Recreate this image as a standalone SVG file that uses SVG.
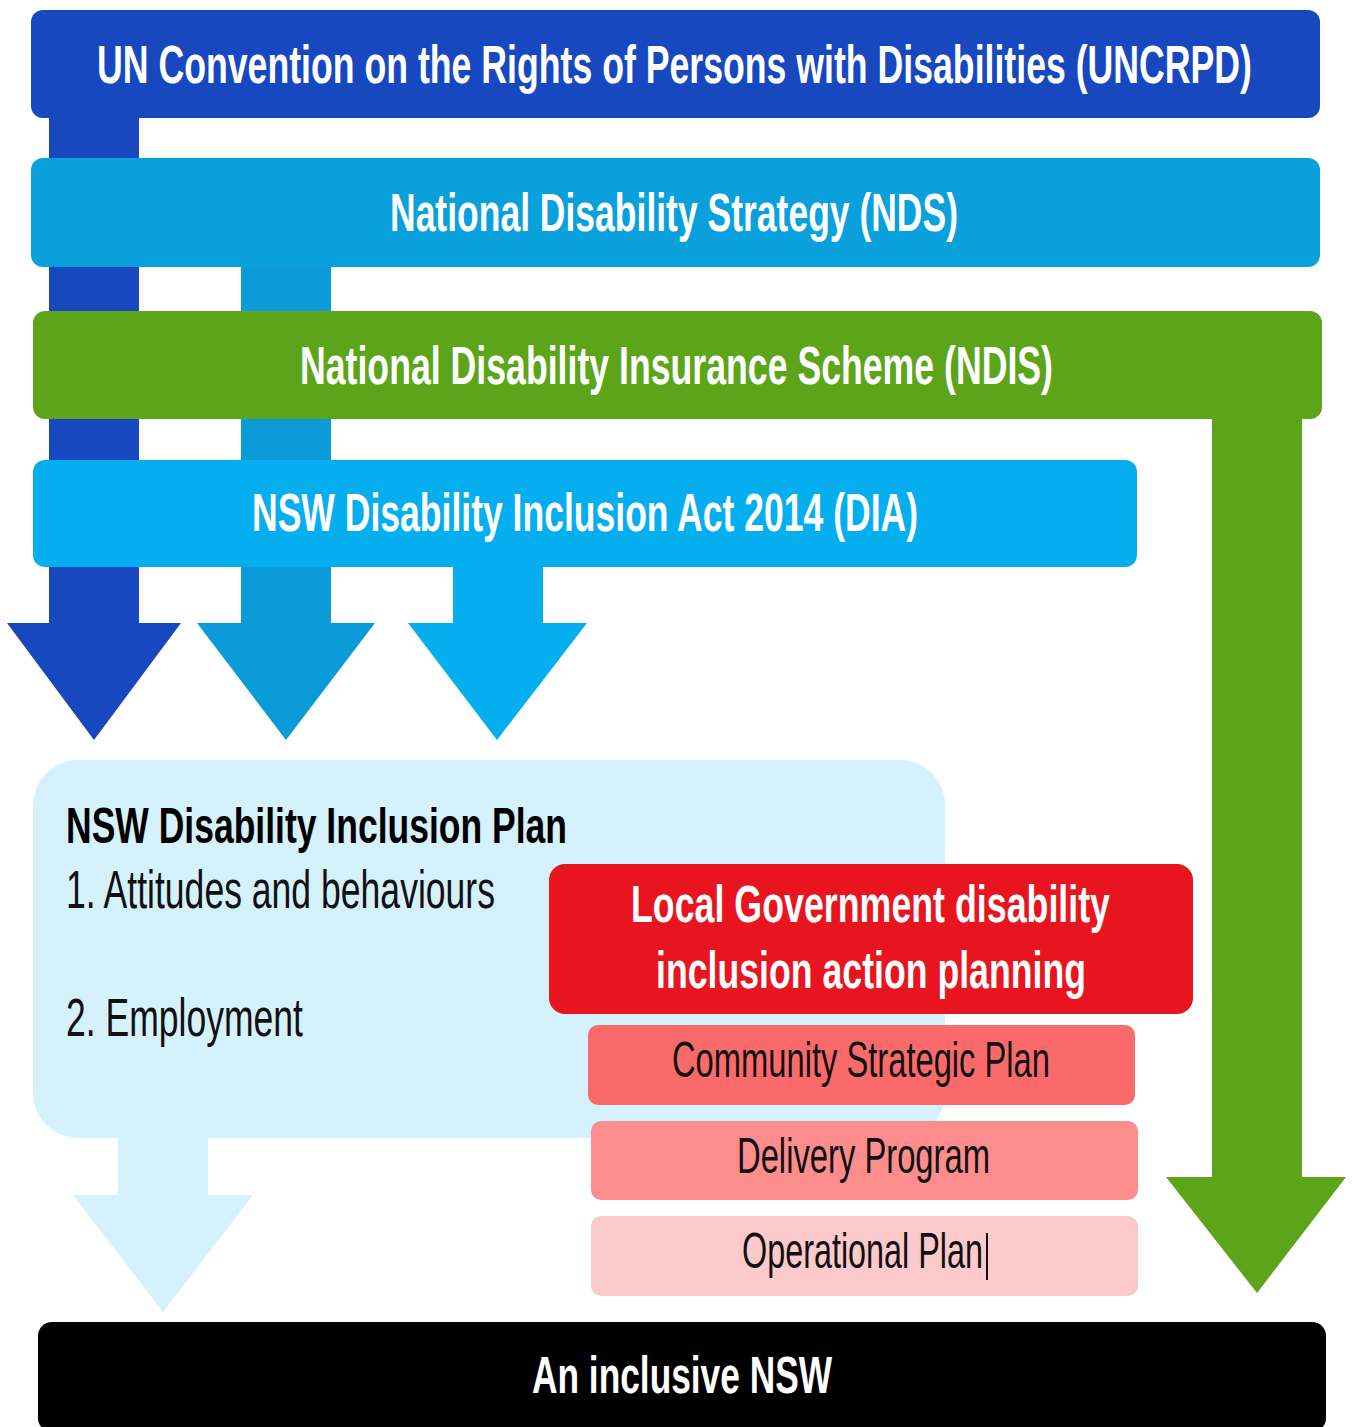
<svg xmlns="http://www.w3.org/2000/svg" width="1355" height="1427" viewBox="0 0 1355 1427">
<style>
text{font-family:"Liberation Sans",Arial,sans-serif}
.tb{font-weight:bold;fill:#fff;font-size:54px}
.tk{font-weight:bold;fill:#000;font-size:50px}
.tr{fill:#111;font-size:54px}
.ts{fill:#111;font-size:50px}
.tw{font-weight:bold;fill:#fff;font-size:52px}
</style>
<rect width="1355" height="1427" fill="#fff"/>
<g id="connectors">
  <path id="arrow-uncrpd" d="M49 110 H139 V623 H181 L94 740 L7 623 H49 Z" fill="#1748BF"/>
  <path id="arrow-nds" d="M241 260 H331 V623 H375 L286 740 L197 623 H241 Z" fill="#0A9BD8"/>
  <path id="arrow-dia" d="M453 560 H543 V623 H587 L497 740 L408 623 H453 Z" fill="#05AEEE"/>
  <path id="arrow-ndis" d="M1212 405 H1302 V1177 H1346 L1257 1293 L1166 1177 H1212 Z" fill="#5CA51B"/>
  <path id="arrow-plan" d="M118 1130 H208 V1195 H253 L163 1312 L73 1195 H118 Z" fill="#D5F1FC"/>
</g>
<g id="uncrpd">
  <rect x="31" y="10" width="1289" height="108" rx="12" fill="#1748BF"/>
  <text class="tb" x="97" y="83" textLength="1155" lengthAdjust="spacingAndGlyphs">UN Convention on the Rights of Persons with Disabilities (UNCRPD)</text>
</g>
<g id="nds">
  <rect x="31" y="158" width="1289" height="109" rx="12" fill="#0AA0DC"/>
  <text class="tb" x="390" y="231" textLength="568" lengthAdjust="spacingAndGlyphs">National Disability Strategy (NDS)</text>
</g>
<g id="ndis">
  <rect x="33" y="311" width="1289" height="108" rx="12" fill="#5CA51B"/>
  <text class="tb" x="300" y="384" textLength="753" lengthAdjust="spacingAndGlyphs">National Disability Insurance Scheme (NDIS)</text>
</g>
<g id="dia">
  <rect x="33" y="460" width="1104" height="107" rx="12" fill="#05AEEE"/>
  <text class="tb" x="252" y="531" textLength="666" lengthAdjust="spacingAndGlyphs">NSW Disability Inclusion Act 2014 (DIA)</text>
</g>
<g id="nsw-plan">
  <rect x="33" y="760" width="912" height="378" rx="45" fill="#D5F1FC"/>
  <text class="tk" x="66" y="843" textLength="501" lengthAdjust="spacingAndGlyphs">NSW Disability Inclusion Plan</text>
  <text class="tr" x="66" y="908" textLength="429" lengthAdjust="spacingAndGlyphs">1. Attitudes and behaviours</text>
  <text class="tr" x="66" y="1036" textLength="237" lengthAdjust="spacingAndGlyphs">2. Employment</text>
</g>
<g id="local-gov">
  <rect x="549" y="864" width="644" height="150" rx="16" fill="#E8141F"/>
  <text class="tw" x="631" y="922" textLength="479" lengthAdjust="spacingAndGlyphs">Local Government disability</text>
  <text class="tw" x="656" y="988" textLength="430" lengthAdjust="spacingAndGlyphs">inclusion action planning</text>
</g>
<g id="community-strategic-plan">
  <rect x="588" y="1025" width="547" height="80" rx="10" fill="#FA6A6A"/>
  <text class="ts" x="672" y="1077" textLength="378" lengthAdjust="spacingAndGlyphs">Community Strategic Plan</text>
</g>
<g id="delivery-program">
  <rect x="591" y="1121" width="547" height="79" rx="10" fill="#FD8C8C"/>
  <text class="ts" x="737" y="1173" textLength="253" lengthAdjust="spacingAndGlyphs">Delivery Program</text>
</g>
<g id="operational-plan">
  <rect x="591" y="1216" width="547" height="80" rx="10" fill="#FCCACB"/>
  <text class="ts" x="742" y="1268" textLength="241" lengthAdjust="spacingAndGlyphs">Operational Plan</text>
  <rect x="986" y="1233" width="2" height="47" fill="#111"/>
</g>
<g id="inclusive-nsw">
  <rect x="38" y="1322" width="1288" height="110" rx="14" fill="#000"/>
  <text class="tw" x="532" y="1393" textLength="300" lengthAdjust="spacingAndGlyphs">An inclusive NSW</text>
</g>
</svg>
